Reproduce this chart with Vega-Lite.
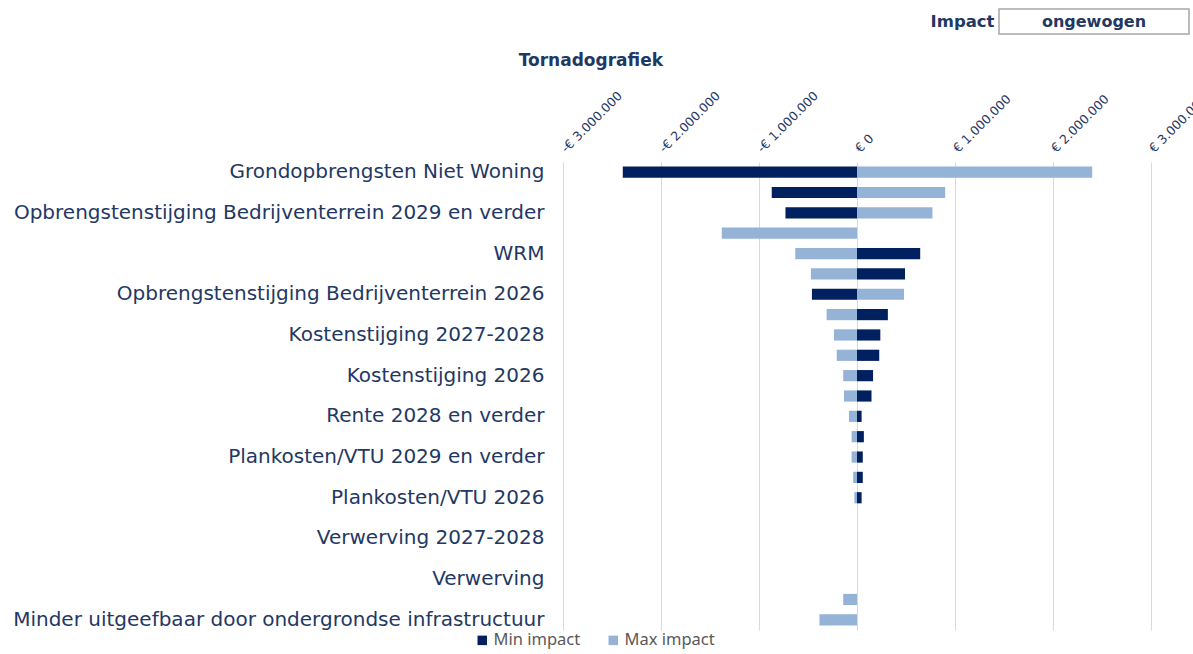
{
  "$schema": "https://vega.github.io/schema/vega-lite/v6.json",
  "padding": {"left": 12, "top": 8, "right": 0, "bottom": 0},
  "background": "white",
  "spacing": 17,
  "config": {
    "view": {"stroke": null},
    "locale": {"number": {"decimal": ",", "thousands": ".", "grouping": [3], "currency": ["€ ", ""], "minus": "-"}},
    "font": "DejaVu Sans"
  },
  "vconcat": [
    {
      "spacing": 0,
      "hconcat": [
        {
          "width": 366,
          "height": 25,
          "data": {"values": [{"t": ""}]},
          "mark": {"type": "text"},
          "encoding": {"text": {"field": "t"}}
        },
        {
          "width": 190,
          "height": 25,
          "view": {"stroke": "#a6a6a6", "strokeWidth": 1.5},
          "data": {"values": [{"key": "Impact", "value": "ongewogen"}]},
          "mark": {"type": "text", "font": "DejaVu Sans", "fontWeight": "bold", "fontSize": 16, "color": "#1F3864"},
          "encoding": {
            "y": {"field": "key", "type": "nominal", "axis": {"title": null, "ticks": false, "domain": false, "labelFont": "DejaVu Sans", "labelFontWeight": "bold", "labelFontSize": 16.5, "labelColor": "#1F3864", "labelPadding": 5}},
            "text": {"field": "value"}
          }
        }
      ]
    },
    {
      "width": 588,
      "height": 468,
      "title": {"text": "Tornadografiek", "font": "DejaVu Sans", "fontSize": 17, "fontWeight": "bold", "color": "#1F3864", "anchor": "middle", "frame": "bounds", "offset": 19, "dx": -20},
      "data": {"values": [
        {"factor": "Grondopbrengsten Niet Woning", "series": "Min impact", "value": -2390000},
        {"factor": "Grondopbrengsten Niet Woning", "series": "Max impact", "value": 2400000},
        {"factor": "Grondopbrengsten Woning", "series": "Min impact", "value": -870000},
        {"factor": "Grondopbrengsten Woning", "series": "Max impact", "value": 900000},
        {"factor": "Opbrengstenstijging Bedrijventerrein 2029 en verder", "series": "Min impact", "value": -730000},
        {"factor": "Opbrengstenstijging Bedrijventerrein 2029 en verder", "series": "Max impact", "value": 770000},
        {"factor": "Fasering uitgifte", "series": "Min impact", "value": 0},
        {"factor": "Fasering uitgifte", "series": "Max impact", "value": -1380000},
        {"factor": "WRM", "series": "Min impact", "value": 645000},
        {"factor": "WRM", "series": "Max impact", "value": -630000},
        {"factor": "Opbrengstenstijging Bedrijventerrein 2027-2028", "series": "Min impact", "value": 490000},
        {"factor": "Opbrengstenstijging Bedrijventerrein 2027-2028", "series": "Max impact", "value": -470000},
        {"factor": "Opbrengstenstijging Bedrijventerrein 2026", "series": "Min impact", "value": -460000},
        {"factor": "Opbrengstenstijging Bedrijventerrein 2026", "series": "Max impact", "value": 480000},
        {"factor": "Kostenstijging 2029 en verder", "series": "Min impact", "value": 315000},
        {"factor": "Kostenstijging 2029 en verder", "series": "Max impact", "value": -310000},
        {"factor": "Kostenstijging 2027-2028", "series": "Min impact", "value": 238000},
        {"factor": "Kostenstijging 2027-2028", "series": "Max impact", "value": -235000},
        {"factor": "Rente 2029 en verder", "series": "Min impact", "value": 227000},
        {"factor": "Rente 2029 en verder", "series": "Max impact", "value": -207000},
        {"factor": "Kostenstijging 2026", "series": "Min impact", "value": 164000},
        {"factor": "Kostenstijging 2026", "series": "Max impact", "value": -141000},
        {"factor": "Rente 2026-2027", "series": "Min impact", "value": 148000},
        {"factor": "Rente 2026-2027", "series": "Max impact", "value": -133000},
        {"factor": "Rente 2028 en verder", "series": "Min impact", "value": 47000},
        {"factor": "Rente 2028 en verder", "series": "Max impact", "value": -82000},
        {"factor": "Rente 2026", "series": "Min impact", "value": 70000},
        {"factor": "Rente 2026", "series": "Max impact", "value": -55000},
        {"factor": "Plankosten/VTU 2029 en verder", "series": "Min impact", "value": 59000},
        {"factor": "Plankosten/VTU 2029 en verder", "series": "Max impact", "value": -55000},
        {"factor": "Plankosten/VTU 2027-2028", "series": "Min impact", "value": 59000},
        {"factor": "Plankosten/VTU 2027-2028", "series": "Max impact", "value": -39000},
        {"factor": "Plankosten/VTU 2026", "series": "Min impact", "value": 47000},
        {"factor": "Plankosten/VTU 2026", "series": "Max impact", "value": -27000},
        {"factor": "Verwerving 2029 en verder", "series": "Min impact", "value": 0},
        {"factor": "Verwerving 2029 en verder", "series": "Max impact", "value": 0},
        {"factor": "Verwerving 2027-2028", "series": "Min impact", "value": 0},
        {"factor": "Verwerving 2027-2028", "series": "Max impact", "value": 0},
        {"factor": "Verwerving 2026", "series": "Min impact", "value": 0},
        {"factor": "Verwerving 2026", "series": "Max impact", "value": 0},
        {"factor": "Verwerving", "series": "Min impact", "value": 0},
        {"factor": "Verwerving", "series": "Max impact", "value": 0},
        {"factor": "Bijdragen derden", "series": "Min impact", "value": 0},
        {"factor": "Bijdragen derden", "series": "Max impact", "value": -141000},
        {"factor": "Minder uitgeefbaar door ondergrondse infrastructuur", "series": "Min impact", "value": 0},
        {"factor": "Minder uitgeefbaar door ondergrondse infrastructuur", "series": "Max impact", "value": -383000}
      ]},
      "mark": {"type": "bar"},
      "encoding": {
        "y": {
          "field": "factor", "type": "nominal", "sort": null,
          "scale": {"paddingInner": 0.45, "paddingOuter": 0.225},
          "axis": {
            "title": null, "ticks": false, "domain": false, "grid": false,
            "labelFont": "DejaVu Sans", "labelFontSize": 20, "labelColor": "#1F3864", "labelPadding": 19, "labelLimit": 800,
            "values": ["Grondopbrengsten Niet Woning", "Opbrengstenstijging Bedrijventerrein 2029 en verder", "WRM", "Opbrengstenstijging Bedrijventerrein 2026", "Kostenstijging 2027-2028", "Kostenstijging 2026", "Rente 2028 en verder", "Plankosten/VTU 2029 en verder", "Plankosten/VTU 2026", "Verwerving 2027-2028", "Verwerving", "Minder uitgeefbaar door ondergrondse infrastructuur"]
          }
        },
        "x": {
          "field": "value", "type": "quantitative",
          "scale": {"domain": [-3000000, 3000000], "nice": false},
          "axis": {
            "orient": "top", "title": null, "format": "$,.0f",
            "values": [-3000000, -2000000, -1000000, 0, 1000000, 2000000, 3000000],
            "grid": true, "gridColor": "#d9d9d9", "gridWidth": 1, "ticks": false, "tickSize": 0, "domain": false,
            "labelAngle": -45, "labelAlign": "left", "labelBaseline": "middle", "labelPadding": 12,
            "labelFont": "DejaVu Sans", "labelFontSize": 12.5, "labelColor": "#1F3864", "labelFlush": false, "labelOverlap": false, "labelBound": false
          }
        },
        "color": {
          "field": "series", "type": "nominal",
          "scale": {"domain": ["Min impact", "Max impact"], "range": ["#002060", "#95B3D7"]},
          "legend": {
            "title": null, "orient": "none", "direction": "horizontal", "legendX": -89, "legendY": 623,
            "symbolType": "square", "symbolSize": 90, "symbolStrokeWidth": 0, "symbolOpacity": 1,
            "labelFont": "Noto Sans", "labelFontSize": 16.5, "labelColor": "#595959", "columnPadding": 24, "labelOffset": 3
          }
        }
      }
    }
  ]
}
